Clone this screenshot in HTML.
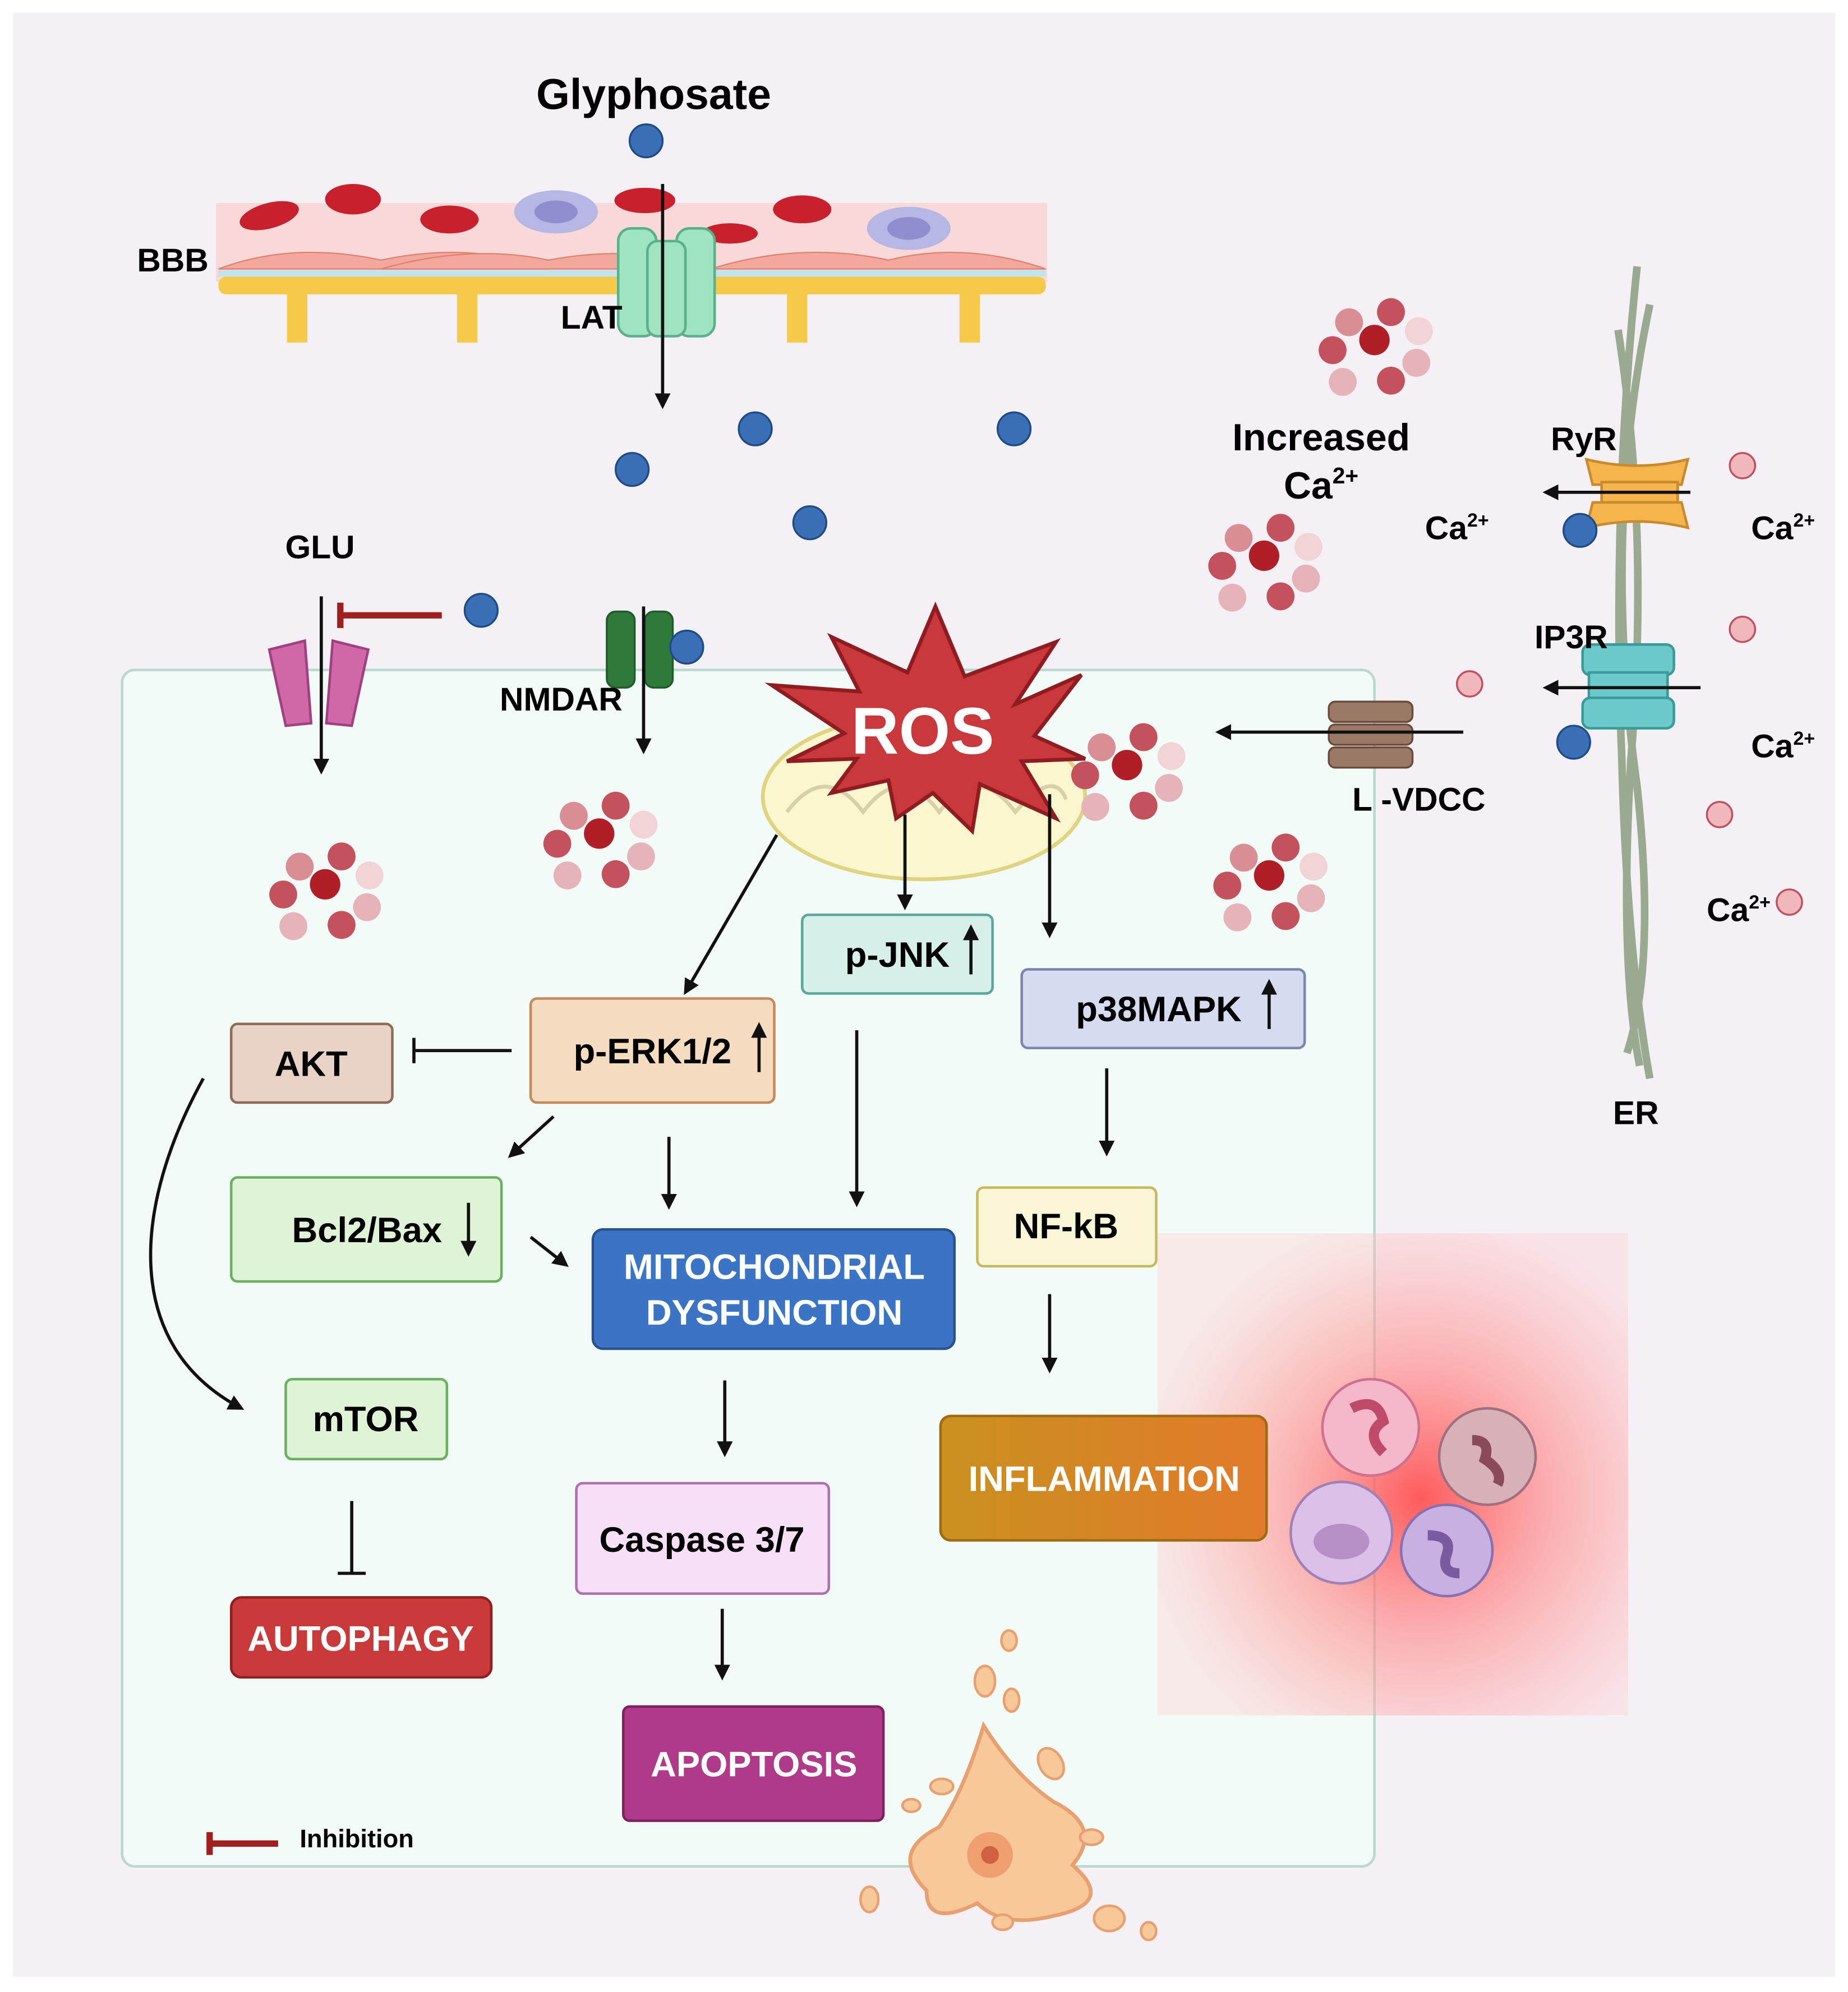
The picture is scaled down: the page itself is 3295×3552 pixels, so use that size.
<!DOCTYPE html>
<html><head><meta charset="utf-8"><style>
html,body{margin:0;padding:0;background:#fff}
svg{display:block}
text{font-family:"Liberation Sans",sans-serif;font-weight:bold}
</style></head><body>
<svg width="3295" height="3552" viewBox="0 0 1456 1570" xmlns="http://www.w3.org/2000/svg">
<defs>
<marker id="ar" viewBox="0 0 10 10" refX="8" refY="5" markerWidth="5" markerHeight="5" orient="auto"><path d="M0,0L10,5L0,10z" fill="#111"/></marker>
<radialGradient id="glow" cx="0.56" cy="0.55" r="0.6"><stop offset="0" stop-color="#ff4a4a" stop-opacity="0.9"/><stop offset="0.45" stop-color="#ff8080" stop-opacity="0.6"/><stop offset="1" stop-color="#ffcccc" stop-opacity="0.35"/></radialGradient>
<linearGradient id="inf" x1="0" x2="1"><stop offset="0" stop-color="#c99020"/><stop offset="1" stop-color="#e27a2a"/></linearGradient>
<g id="cl">
<circle cx="0" cy="0" r="12" fill="#b01e28"/>
<circle cx="-20" cy="-14" r="11" fill="#d98d94"/><circle cx="13" cy="-22" r="11" fill="#c4525c"/>
<circle cx="35" cy="-7" r="11" fill="#f2d3d6"/><circle cx="-33" cy="8" r="11" fill="#c4525c"/>
<circle cx="33" cy="18" r="11" fill="#e6b3b8"/><circle cx="-25" cy="33" r="11" fill="#e6b3b8"/><circle cx="13" cy="32" r="11" fill="#c4525c"/>
</g>
</defs>
<rect x="0" y="0" width="1456" height="1570" fill="#fff"/>
<rect x="10" y="10" width="1436" height="1548" fill="#f5f0f6"/>
<rect x="96" y="528" width="987" height="943" rx="10" fill="#f3fbf8" stroke="#b8d8d0" stroke-width="2"/>
<rect x="912" y="972" width="371" height="380" fill="url(#glow)"/>
<rect x="170" y="160" width="655" height="62" fill="#f9d8d8"/>
<g fill="#f7c948">
<rect x="172" y="218" width="652" height="14" rx="6"/>
<rect x="226" y="225" width="16" height="45"/><rect x="360" y="225" width="16" height="45"/><rect x="620" y="225" width="16" height="45"/><rect x="756" y="225" width="16" height="45"/>
</g>
<g fill="#f3a89e" stroke="#e08070" stroke-width="1">
<path d="M172,212 Q230,190 300,205 Q370,190 432,212z"/><path d="M300,212 Q370,192 432,205 Q500,192 560,212z"/>
<path d="M560,212 Q630,190 700,205 Q760,190 824,212z"/>
</g>
<rect x="172" y="213" width="652" height="5" fill="#bfe3ef"/>
<g fill="#c8202c"><ellipse cx="212" cy="170" rx="24" ry="10" transform="rotate(-15 212 170)"/><ellipse cx="278" cy="157" rx="22" ry="12"/><ellipse cx="354" cy="173" rx="23" ry="11"/><ellipse cx="508" cy="158" rx="24" ry="10"/><ellipse cx="575" cy="184" rx="22" ry="8"/><ellipse cx="632" cy="165" rx="23" ry="11"/></g>
<ellipse cx="438" cy="167" rx="33" ry="17" fill="#b7b7e6"/><ellipse cx="438" cy="167" rx="17" ry="9" fill="#8f8fd0"/>
<ellipse cx="716" cy="180" rx="33" ry="17" fill="#b7b7e6"/><ellipse cx="716" cy="180" rx="17" ry="9" fill="#8f8fd0"/>
<g fill="#9fe3c0" stroke="#5ab08a" stroke-width="2"><rect x="487" y="180" width="30" height="85" rx="10"/><rect x="533" y="180" width="30" height="85" rx="10"/><rect x="510" y="190" width="30" height="75" rx="8"/></g>
<text x="515" y="86" font-size="34" text-anchor="middle">Glyphosate</text>
<text x="136" y="214" font-size="26" text-anchor="middle">BBB</text>
<text x="466" y="259" font-size="26" text-anchor="middle">LAT</text>
<g fill="#d068a8" stroke="#a04080" stroke-width="2"><path d="M212,512 L240,505 L245,570 L225,572z"/><path d="M290,512 L262,505 L257,570 L277,572z"/></g>
<text x="252" y="440" font-size="26" text-anchor="middle">GLU</text>
<g fill="#2f7a3a" stroke="#1f5a2a" stroke-width="1.5"><rect x="478" y="482" width="22" height="60" rx="7"/><rect x="508" y="482" width="22" height="60" rx="7"/></g>
<text x="442" y="560" font-size="26" text-anchor="middle">NMDAR</text>
<ellipse cx="728" cy="628" rx="127" ry="65" fill="#faf6cf" stroke="#e0d480" stroke-width="3"/>
<path d="M620,640 Q650,600 680,640 Q710,600 740,640 Q770,600 800,640 Q830,605 840,630" fill="none" stroke="#d8d0a8" stroke-width="3"/>
<polygon points="737,478 760,533 832,506 800,555 852,532 815,580 855,598 805,600 832,645 772,618 766,655 735,625 706,645 700,615 655,625 675,598 620,600 665,578 608,540 677,545 655,502 715,530" fill="#c9383a" stroke="#8f1c20" stroke-width="3"/>
<text x="727" y="594" font-size="52" fill="#fff" text-anchor="middle">ROS</text>
<use href="#cl" x="256" y="697"/><use href="#cl" x="472" y="657"/><use href="#cl" x="1083" y="268"/><use href="#cl" x="996" y="438"/><use href="#cl" x="888" y="603"/><use href="#cl" x="1000" y="690"/>
<g fill="none" stroke="#9aaa90" stroke-width="6"><path d="M1290,210 Q1270,400 1278,600 Q1282,750 1300,850"/><path d="M1275,260 Q1300,420 1285,600 Q1276,760 1292,840"/><path d="M1300,240 Q1262,420 1290,620 Q1305,760 1282,830"/></g>
<g fill="#f6b44c" stroke="#c88a2a" stroke-width="2"><path d="M1250,362 Q1290,372 1330,362 L1325,382 L1255,382z"/><rect x="1262" y="380" width="60" height="16"/><path d="M1255,396 L1325,396 L1330,416 Q1290,406 1250,416z"/></g>
<g fill="#6ccaca" stroke="#3a9a9a" stroke-width="2"><rect x="1247" y="508" width="72" height="24" rx="6"/><rect x="1252" y="530" width="62" height="20"/><rect x="1247" y="550" width="72" height="24" rx="6"/></g>
<g fill="#9a7a66" stroke="#6a4a3a" stroke-width="1.5"><rect x="1047" y="553" width="66" height="16" rx="5"/><rect x="1047" y="571" width="66" height="16" rx="5"/><rect x="1047" y="589" width="66" height="16" rx="5"/></g>
<g fill="#f0b8bc" stroke="#c05060" stroke-width="1.5"><circle cx="1373" cy="367" r="10"/><circle cx="1373" cy="496" r="10"/><circle cx="1158" cy="539" r="10"/><circle cx="1355" cy="642" r="10"/><circle cx="1410" cy="711" r="10"/></g>
<g fill="#3a6fb5" stroke="#1e4a86" stroke-width="1.5"><circle cx="509" cy="111" r="13"/><circle cx="595" cy="338" r="13"/><circle cx="498" cy="370" r="13"/><circle cx="799" cy="338" r="13"/><circle cx="638" cy="412" r="13"/><circle cx="379" cy="481" r="13"/><circle cx="541" cy="510" r="13"/><circle cx="1245" cy="418" r="13"/><circle cx="1240" cy="585" r="13"/></g>
<text x="1041" y="355" font-size="30" text-anchor="middle">Increased</text>
<text x="1041" y="393" font-size="30" text-anchor="middle">Ca<tspan font-size="18" dy="-12">2+</tspan></text>
<text x="1148" y="425" font-size="26" text-anchor="middle">Ca<tspan font-size="15" dy="-10">2+</tspan></text>
<text x="1405" y="425" font-size="26" text-anchor="middle">Ca<tspan font-size="15" dy="-10">2+</tspan></text>
<text x="1405" y="597" font-size="26" text-anchor="middle">Ca<tspan font-size="15" dy="-10">2+</tspan></text>
<text x="1370" y="726" font-size="26" text-anchor="middle">Ca<tspan font-size="15" dy="-10">2+</tspan></text>
<text x="1248" y="355" font-size="26" text-anchor="middle">RyR</text>
<text x="1238" y="511" font-size="26" text-anchor="middle">IP3R</text>
<text x="1118" y="639" font-size="26" text-anchor="middle">L -VDCC</text>
<text x="1289" y="886" font-size="26" text-anchor="middle">ER</text>
<g stroke="#111" stroke-width="2.5" fill="none" marker-end="url(#ar)">
<line x1="522" y1="145" x2="522" y2="320"/><line x1="253" y1="470" x2="253" y2="608"/><line x1="507" y1="478" x2="507" y2="592"/>
<line x1="612" y1="658" x2="540" y2="782"/><line x1="713" y1="642" x2="713" y2="715"/><line x1="827" y1="626" x2="827" y2="737"/>
<line x1="1153" y1="577" x2="960" y2="577"/><line x1="1332" y1="388" x2="1218" y2="388"/><line x1="1340" y1="542" x2="1218" y2="542"/>
<line x1="436" y1="880" x2="402" y2="911"/><line x1="527" y1="896" x2="527" y2="951"/><line x1="675" y1="812" x2="675" y2="949"/>
<line x1="418" y1="975" x2="446" y2="997"/><line x1="571" y1="1088" x2="571" y2="1146"/><line x1="569" y1="1268" x2="569" y2="1322"/>
<line x1="872" y1="842" x2="872" y2="909"/><line x1="827" y1="1020" x2="827" y2="1080"/>
<path d="M160,850 C105,950 95,1060 190,1110"/>
<line x1="598" y1="845" x2="598" y2="808"/><line x1="765" y1="768" x2="765" y2="731"/><line x1="1000" y1="811" x2="1000" y2="774"/><line x1="369" y1="948" x2="369" y2="988"/>
</g>
<g stroke="#111" stroke-width="2.5"><line x1="403" y1="828" x2="326" y2="828"/><line x1="326" y1="818" x2="326" y2="838"/><line x1="277" y1="1183" x2="277" y2="1240"/><line x1="266" y1="1240" x2="288" y2="1240"/></g>
<g stroke="#a02020" stroke-width="5"><line x1="348" y1="485" x2="268" y2="485"/><line x1="268" y1="475" x2="268" y2="495"/><line x1="219" y1="1453" x2="165" y2="1453"/><line x1="165" y1="1444" x2="165" y2="1462"/></g>
<text x="236" y="1456" font-size="20">Inhibition</text>
<g stroke-width="2">
<rect x="182" y="807" width="127" height="62" rx="5" fill="#e8d3c6" stroke="#8f6b5a"/>
<rect x="418" y="787" width="192" height="82" rx="5" fill="#f5dcc0" stroke="#c48a5a"/>
<rect x="632" y="721" width="150" height="62" rx="5" fill="#d6efe9" stroke="#5aa89a"/>
<rect x="805" y="764" width="223" height="62" rx="5" fill="#d6dcef" stroke="#7b86b0"/>
<rect x="182" y="928" width="213" height="82" rx="5" fill="#dff3d6" stroke="#6ab060"/>
<rect x="467" y="969" width="285" height="94" rx="8" fill="#3b74c4" stroke="#2a5290"/>
<rect x="770" y="936" width="141" height="62" rx="5" fill="#f9f6d6" stroke="#c8b860"/>
<rect x="225" y="1087" width="127" height="63" rx="5" fill="#dff3d6" stroke="#6ab060"/>
<rect x="454" y="1169" width="199" height="87" rx="5" fill="#f7dff7" stroke="#b070b0"/>
<rect x="741" y="1116" width="257" height="98" rx="8" fill="url(#inf)" stroke="#a06a10"/>
<rect x="182" y="1259" width="205" height="63" rx="8" fill="#c83a3a" stroke="#902020"/>
<rect x="491" y="1345" width="205" height="90" rx="5" fill="#b03a8a" stroke="#802060"/>
</g>
<g stroke="#111" stroke-width="2.5" fill="none" marker-end="url(#ar)">
<line x1="598" y1="845" x2="598" y2="808"/><line x1="765" y1="768" x2="765" y2="731"/><line x1="1000" y1="811" x2="1000" y2="774"/><line x1="369" y1="948" x2="369" y2="988"/>
</g>
<g font-size="28" text-anchor="middle">
<text x="245" y="848">AKT</text>
<text x="514" y="838">p-ERK1/2</text>
<text x="707" y="762">p-JNK</text>
<text x="913" y="805">p38MAPK</text>
<text x="289" y="979">Bcl2/Bax</text>
<text x="610" y="1008" fill="#fff">MITOCHONDRIAL</text>
<text x="610" y="1044" fill="#fff">DYSFUNCTION</text>
<text x="840" y="976">NF-kB</text>
<text x="288" y="1128">mTOR</text>
<text x="553" y="1223">Caspase 3/7</text>
<text x="870" y="1175" fill="#fff">INFLAMMATION</text>
<text x="284" y="1301" fill="#fff">AUTOPHAGY</text>
<text x="594" y="1400" fill="#fff">APOPTOSIS</text>
</g>
<circle cx="1080" cy="1125" r="38" fill="#f5b8c8" stroke="#d07090" stroke-width="2"/><path d="M1065,1110 q20,-10 25,10 q-15,10 0,25" stroke="#c04a6a" stroke-width="8" fill="none"/>
<circle cx="1172" cy="1148" r="38" fill="#d8b0b8" stroke="#a07080" stroke-width="2"/><path d="M1160,1135 q15,0 10,15 q15,10 10,20" stroke="#8a4a5a" stroke-width="8" fill="none"/>
<circle cx="1057" cy="1208" r="40" fill="#dcc0e8" stroke="#a080b8" stroke-width="2"/><ellipse cx="1057" cy="1215" rx="22" ry="14" fill="#b890c8"/>
<circle cx="1140" cy="1222" r="36" fill="#c8b0e0" stroke="#8a70b0" stroke-width="2"/><path d="M1125,1210 q20,0 15,15 q-5,15 10,15" stroke="#7a5aa0" stroke-width="8" fill="none"/>
<path d="M775,1360 Q800,1400 830,1420 Q870,1440 845,1470 Q880,1500 830,1510 Q790,1520 770,1500 Q730,1520 730,1490 Q700,1460 740,1440 Q760,1410 775,1360z" fill="#f7c89a" stroke="#e8a070" stroke-width="3"/>
<circle cx="780" cy="1462" r="18" fill="#f0a070"/><circle cx="780" cy="1462" r="7" fill="#d06040"/>
<g fill="#f7c89a" stroke="#e8a070" stroke-width="2"><ellipse cx="795" cy="1293" rx="6" ry="8"/><ellipse cx="776" cy="1325" rx="8" ry="12"/><ellipse cx="797" cy="1340" rx="6" ry="9"/><ellipse cx="828" cy="1390" rx="9" ry="13" transform="rotate(-30 828 1390)"/><ellipse cx="718" cy="1423" rx="7" ry="5"/><ellipse cx="742" cy="1408" rx="9" ry="6"/><ellipse cx="860" cy="1448" rx="9" ry="6"/><ellipse cx="685" cy="1497" rx="7" ry="10"/><ellipse cx="790" cy="1515" rx="8" ry="6"/><ellipse cx="874" cy="1512" rx="12" ry="10"/><ellipse cx="905" cy="1522" rx="6" ry="7"/></g>
</svg>
</body></html>
